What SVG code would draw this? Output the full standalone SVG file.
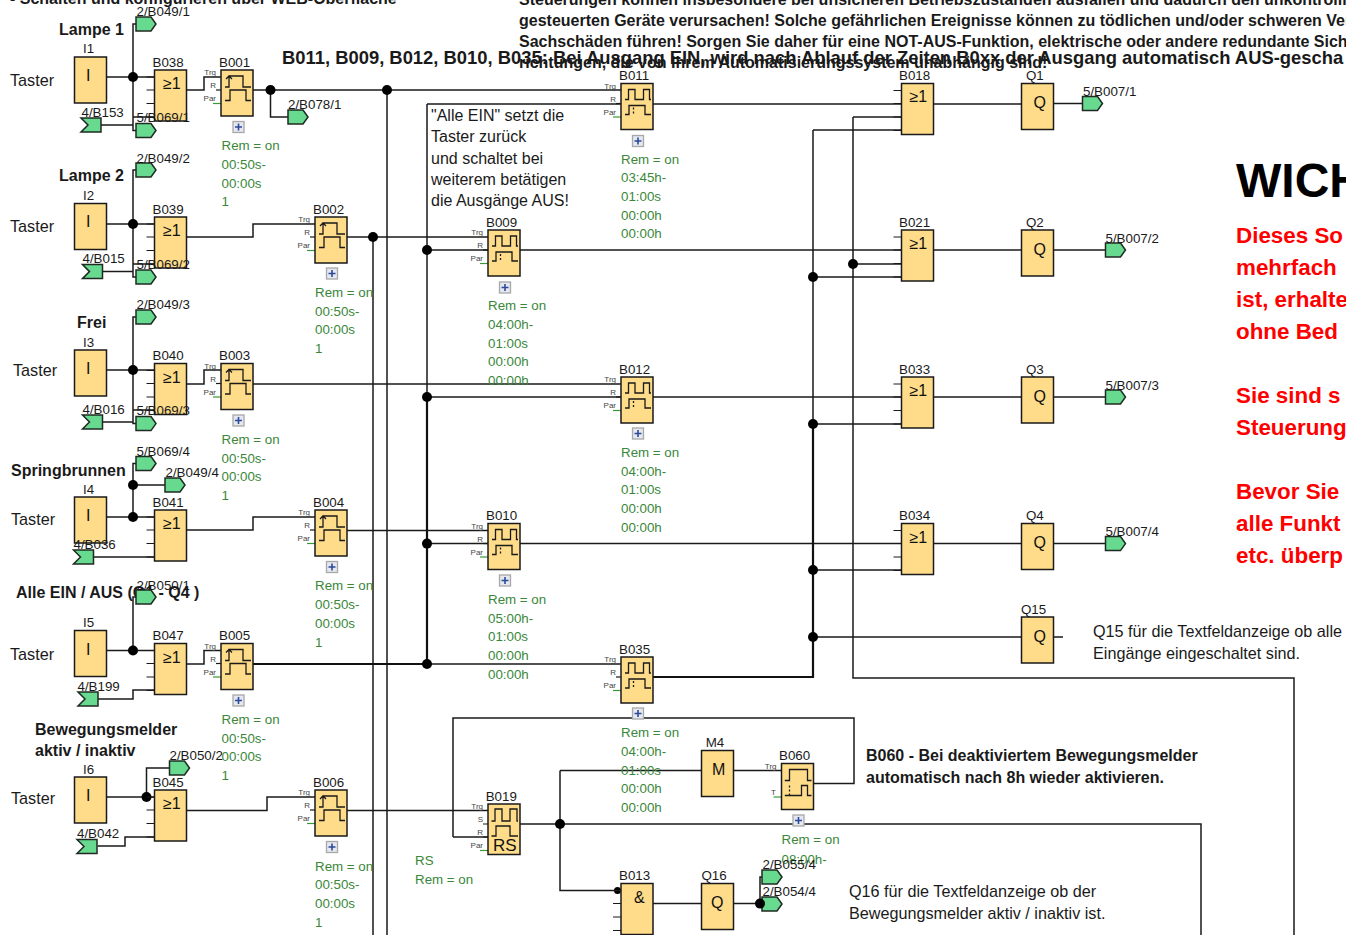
<svg xmlns="http://www.w3.org/2000/svg" width="1346" height="935" viewBox="0 0 1346 935">
<style>
text{font-family:"Liberation Sans",Arial,sans-serif;fill:#1a1a1a}
.l{font-size:13.33px}
.g{font-size:13.33px;fill:#3a873a}
.p{font-size:8px;fill:#444;text-anchor:end}
.t{font-size:16.2px}
.b16{font-size:16px;font-weight:bold}
.note{font-size:16px}
.red{font-size:22.4px;font-weight:bold;fill:#ff0000}
.sym{font-size:16px;fill:#111}
.w{fill:none;stroke:#1a1a1a;stroke-width:1.5}
.wt{fill:none;stroke:#111;stroke-width:2.2}
.d{fill:#000}
.blk{fill:#fedc8a;stroke:#1a1a1a;stroke-width:1.5}
.gl{fill:none;stroke:#1a1a1a;stroke-width:1.3}
.tk{stroke:#1a1a1a;stroke-width:1.2}
.gt{stroke:#3a9a3a;stroke-width:1.2}
.io{fill:#68da90;stroke:#1f2a22;stroke-width:1.5}
.pb{fill:#e6e8f0;stroke:#a8a8a8;stroke-width:1.3}
.pp{stroke:#2c4a9c;stroke-width:1.6}
</style>
<defs>
<g id="orB"><path class="tk" d="M-8 7H0M-8 20H0M-8 33.500H0M-8 47H0"/><rect class="blk" width="32" height="51"/></g>
<g id="box"><rect class="blk" width="32" height="46"/></g>
<g id="tA"><path class="tk" d="M-5 20H0"/><path class="gt" d="M-8 33.500H0"/><rect class="blk" width="32" height="46"/><path class="gl" d="M4 17H8V6H22V17H30M5 9L8 6L11 9M4 30.500H9V20H25V30.500H30"/></g>
<g id="tB"><path class="tk" d="M-5 20H0"/><path class="gt" d="M-8 33.500H0"/><rect class="blk" width="32" height="46"/><path class="gl" d="M4 16H7.500V6H14V16H22.500V6H28.500V16H30M4 31H8V22H24V31H30"/><path class="gl" stroke-dasharray="2 2" d="M12.500 24V31"/></g>
<g id="tRS"><path class="tk" d="M-5 20H0M-5 33H0"/><path class="gt" d="M-8 46.500H0"/><rect class="blk" width="32" height="50.500"/><path class="gl" d="M3.500 17H7V5H14V17H22V5H29V17H30M3.500 32H8V22H22V32H30"/></g>
<g id="tC"><path class="gt" d="M-8 33.500H0"/><rect class="blk" width="32" height="46"/><path class="gl" d="M3.300 17H8V6H26V17H30M3.300 32H20V22H26V32H30"/><path class="gl" stroke-dasharray="2 2" d="M8 22V32"/></g>
<path id="out" class="io" d="M0 0H15L20 7L15 14H0Z"/>
<path id="inp" class="io" d="M0 0H20V14H0L7 7Z"/>
<g id="plus"><rect class="pb" x="-5.500" y="-5.500" width="11" height="11"/><path class="pp" d="M-3.500 0H3.500M0 -3.500V3.500"/></g>
</defs>

<g id="free-text">
<text class="b16" x="10" y="4">- Schalten und konfigurieren über WEB-Oberfläche</text>
<text class="b16" x="519" y="5">Steuerungen können insbesondere bei unsicheren Betriebszuständen ausfallen und dadurch den unkontrolli</text>
<text class="b16" x="519" y="26">gesteuerten Geräte verursachen! Solche gefährlichen Ereignisse können zu tödlichen und/oder schweren Ver</text>
<text class="b16" x="519" y="47">Sachschäden führen! Sorgen Sie daher für eine NOT-AUS-Funktion, elektrische oder andere redundante Sich</text>
<text class="b16" x="519" y="68">richtungen, die von Ihrem Automatisierungssystem unabhängig sind!</text>
<text x="282" y="64" font-size="18.4" font-weight="bold">B011, B009, B012, B010, B035: Bei Ausgang EIN, wird nach Ablauf der Zeiten B0xx der Ausgang automatisch AUS-gescha</text>
<text class="b16" x="59" y="35">Lampe 1</text>
<text class="b16" x="59" y="181">Lampe 2</text>
<text class="b16" x="77" y="328">Frei</text>
<text class="b16" x="11" y="476">Springbrunnen</text>
<text class="b16" x="16" y="598">Alle EIN / AUS (Q1 - Q4 )</text>
<text class="b16" x="35" y="735">Bewegungsmelder</text>
<text class="b16" x="35" y="756">aktiv / inaktiv</text>
<text class="t" x="10" y="86">Taster</text>
<text class="t" x="10" y="232">Taster</text>
<text class="t" x="13" y="376">Taster</text>
<text class="t" x="11" y="525">Taster</text>
<text class="t" x="10" y="660">Taster</text>
<text class="t" x="11" y="804">Taster</text>
<text class="note" x="431" y="121">"Alle EIN" setzt die</text>
<text class="note" x="431" y="142">Taster zurück</text>
<text class="note" x="431" y="164">und schaltet bei</text>
<text class="note" x="431" y="185">weiterem betätigen</text>
<text class="note" x="431" y="206">die Ausgänge AUS!</text>
<text x="1236" y="197" font-size="48" font-weight="bold" style="fill:#000">WICH</text>
<text class="red" x="1236" y="243">Dieses So</text>
<text class="red" x="1236" y="275">mehrfach</text>
<text class="red" x="1236" y="307">ist, erhalte</text>
<text class="red" x="1236" y="339">ohne Bed</text>
<text class="red" x="1236" y="403">Sie sind s</text>
<text class="red" x="1236" y="435">Steuerung</text>
<text class="red" x="1236" y="499">Bevor Sie</text>
<text class="red" x="1236" y="531">alle Funkt</text>
<text class="red" x="1236" y="563">etc. überp</text>
<text class="t" x="1093" y="637">Q15 für die Textfeldanzeige ob alle</text>
<text class="t" x="1093" y="659">Eingänge eingeschaltet sind.</text>
<text class="t" x="849" y="897">Q16 für die Textfeldanzeige ob der</text>
<text class="t" x="849" y="919">Bewegungsmelder aktiv / inaktiv ist.</text>
<text class="b16" x="866" y="761">B060 - Bei deaktiviertem Bewegungsmelder</text>
<text class="b16" x="866" y="783">automatisch nach 8h wieder aktivieren.</text>
</g>

<g id="connectors">
<path class="w" d="M106 77H154M133 77V24H136M133 77V130.500H136M101 125H133V117H154M186.500 90H204V77H221M253 90H621M270.500 90V117H288M387 90V935M373 237V935M427 104V397M427 104H621M653 104H901M853 117H901M853 117V678H1294V935M813 130H901M813 130V424M933 104H1022M1054 103.500H1083"/>
<path class="w" d="M106 224H154M133 224V170H136M133 224V277H136M103 271.600H133V264H154M186.500 237H253V224H315M347 237H488M427 250H488M520 250H901M933 250H1022M1054 250H1106M853 264H901M813 277H901"/>
<path class="w" d="M106 370H154M133 370V317H136M133 370V423.600H136M103 422H133V410H154M186.500 384H204V370H221M253 384H621M427 397H621M653 397H901M933 397H1022M1054 397H1106M813 424H901"/>
<path class="w" d="M106 517H154M133 517V463.500H136M133 485H165M93.500 557H154M186.500 530H253V517H315M347 530.600H488M427 543.600H488M520 543.600H901M933 543.600H1022M1054 543.600H1106M813 570H901"/>
<path class="w" d="M106 650.500H154M133 650.500V597H136M98 699H133V690H154M186.500 664H204V650.500H221M427 664H621M813 637H1022M1054 637H1063"/>
<path class="wt" d="M253 664H427M427 397V664M813 424V677H653"/>
<path class="w" d="M106 797H154M146.500 797V768H169.500M97.500 846H125V837H154M186.500 810.600H267V797H315M347 810.600H488M453 837H488M453 837V718H854V783.500H813.500M520 824H1201V935M560 770.500V890.500H617M560 770.500H701M733.500 770.500H781M653 903.600H701M733.500 903.600H760M760 903.600V877H762"/>
<g class="d">
<circle cx="133" cy="77" r="5"/><circle cx="270.500" cy="90" r="5"/><circle cx="387" cy="90" r="5"/><circle cx="133" cy="224" r="5"/><circle cx="373" cy="237" r="5"/><circle cx="427" cy="250" r="5"/><circle cx="853" cy="264" r="5"/><circle cx="813" cy="277" r="5"/><circle cx="133" cy="370" r="5"/><circle cx="427" cy="397" r="5"/><circle cx="813" cy="424" r="5"/><circle cx="133" cy="485" r="5"/><circle cx="133" cy="517" r="5"/><circle cx="427" cy="543.600" r="5"/><circle cx="813" cy="570" r="5"/><circle cx="813" cy="637" r="5"/><circle cx="133" cy="650.500" r="5"/><circle cx="427" cy="664" r="5"/><circle cx="146.500" cy="797" r="5"/><circle cx="560" cy="824" r="5"/><circle cx="617.500" cy="890.500" r="3.500"/>
</g>
</g>

<g id="I1"><use href="#box" x="74.500" y="57"/><text class="l" x="83" y="53">I1</text><text class="sym" x="86" y="81">I</text></g>
<g id="I2"><use href="#box" x="74.500" y="203.500"/><text class="l" x="83" y="200">I2</text><text class="sym" x="86" y="227">I</text></g>
<g id="I3"><use href="#box" x="74.500" y="350"/><text class="l" x="83" y="347">I3</text><text class="sym" x="86" y="374">I</text></g>
<g id="I4"><use href="#box" x="74.500" y="497"/><text class="l" x="83" y="493.500">I4</text><text class="sym" x="86" y="521">I</text></g>
<g id="I5"><use href="#box" x="74.500" y="630.500"/><text class="l" x="83" y="627">I5</text><text class="sym" x="86" y="654.500">I</text></g>
<g id="I6"><use href="#box" x="74.500" y="777"/><text class="l" x="83" y="773.500">I6</text><text class="sym" x="86" y="801">I</text></g>

<g id="B038"><use href="#orB" x="154.500" y="70"/><text class="l" x="152.500" y="66.500">B038</text><text class="sym" x="163" y="89">≥1</text></g>
<g id="B039"><use href="#orB" x="154.500" y="217"/><text class="l" x="152.500" y="213.500">B039</text><text class="sym" x="163" y="236">≥1</text></g>
<g id="B040"><use href="#orB" x="154.500" y="363.500"/><text class="l" x="152.500" y="360">B040</text><text class="sym" x="163" y="382.500">≥1</text></g>
<g id="B041"><use href="#orB" x="154.500" y="510"/><text class="l" x="152.500" y="506.500">B041</text><text class="sym" x="163" y="529">≥1</text></g>
<g id="B047"><use href="#orB" x="154.500" y="643.500"/><text class="l" x="152.500" y="640">B047</text><text class="sym" x="163" y="662.500">≥1</text></g>
<g id="B045"><use href="#orB" x="154.500" y="790"/><text class="l" x="152.500" y="786.500">B045</text><text class="sym" x="163" y="809">≥1</text></g>

<g id="B001"><use href="#tA" x="221" y="70"/><text class="l" x="219" y="66.500">B001</text><text class="p" x="216" y="75">Trg</text><text class="p" x="216" y="88">R</text><text class="p" x="216" y="101">Par</text><use href="#plus" x="238.500" y="127"/><text class="g" x="221.500" y="150">Rem = on</text><text class="g" x="221.500" y="169">00:50s-</text><text class="g" x="221.500" y="188">00:00s</text><text class="g" x="221.500" y="206">1</text></g>
<g id="B002"><use href="#tA" x="315" y="217"/><text class="l" x="313" y="213.500">B002</text><text class="p" x="310" y="222">Trg</text><text class="p" x="310" y="235">R</text><text class="p" x="310" y="248">Par</text><use href="#plus" x="332" y="273.500"/><text class="g" x="315" y="297">Rem = on</text><text class="g" x="315" y="316">00:50s-</text><text class="g" x="315" y="334">00:00s</text><text class="g" x="315" y="353">1</text></g>
<g id="B003"><use href="#tA" x="221" y="363.500"/><text class="l" x="219" y="360">B003</text><text class="p" x="216" y="368.500">Trg</text><text class="p" x="216" y="381.500">R</text><text class="p" x="216" y="394.500">Par</text><use href="#plus" x="238.500" y="420.500"/><text class="g" x="221.500" y="444">Rem = on</text><text class="g" x="221.500" y="463">00:50s-</text><text class="g" x="221.500" y="481">00:00s</text><text class="g" x="221.500" y="500">1</text></g>
<g id="B004"><use href="#tA" x="315" y="510"/><text class="l" x="313" y="506.500">B004</text><text class="p" x="310" y="515">Trg</text><text class="p" x="310" y="528">R</text><text class="p" x="310" y="541">Par</text><use href="#plus" x="332" y="567"/><text class="g" x="315" y="590">Rem = on</text><text class="g" x="315" y="609">00:50s-</text><text class="g" x="315" y="628">00:00s</text><text class="g" x="315" y="647">1</text></g>
<g id="B005"><use href="#tA" x="221" y="643.500"/><text class="l" x="219" y="640">B005</text><text class="p" x="216" y="648.500">Trg</text><text class="p" x="216" y="661.500">R</text><text class="p" x="216" y="674.500">Par</text><use href="#plus" x="238.500" y="700.500"/><text class="g" x="221.500" y="724">Rem = on</text><text class="g" x="221.500" y="743">00:50s-</text><text class="g" x="221.500" y="761">00:00s</text><text class="g" x="221.500" y="780">1</text></g>
<g id="B006"><use href="#tA" x="315" y="790"/><text class="l" x="313" y="786.500">B006</text><text class="p" x="310" y="795">Trg</text><text class="p" x="310" y="808">R</text><text class="p" x="310" y="821">Par</text><use href="#plus" x="332" y="847"/><text class="g" x="315" y="871">Rem = on</text><text class="g" x="315" y="889">00:50s-</text><text class="g" x="315" y="908">00:00s</text><text class="g" x="315" y="927">1</text></g>

<g id="B011"><use href="#tB" x="621" y="83.500"/><text class="l" x="619" y="80">B011</text><text class="p" x="616" y="88.500">Trg</text><text class="p" x="616" y="101.500">R</text><text class="p" x="616" y="114.500">Par</text><use href="#plus" x="638" y="141"/><text class="g" x="621" y="164">Rem = on</text><text class="g" x="621" y="182">03:45h-</text><text class="g" x="621" y="201">01:00s</text><text class="g" x="621" y="220">00:00h</text><text class="g" x="621" y="238">00:00h</text></g>
<g id="B009"><use href="#tB" x="488" y="230"/><text class="l" x="486" y="226.500">B009</text><text class="p" x="483" y="235">Trg</text><text class="p" x="483" y="248">R</text><text class="p" x="483" y="261">Par</text><use href="#plus" x="505" y="287.500"/><text class="g" x="488" y="310">Rem = on</text><text class="g" x="488" y="329">04:00h-</text><text class="g" x="488" y="348">01:00s</text><text class="g" x="488" y="366">00:00h</text><text class="g" x="488" y="385">00:00h</text></g>
<g id="B012"><use href="#tB" x="621" y="377"/><text class="l" x="619" y="373.500">B012</text><text class="p" x="616" y="382">Trg</text><text class="p" x="616" y="395">R</text><text class="p" x="616" y="408">Par</text><use href="#plus" x="638" y="433.500"/><text class="g" x="621" y="457">Rem = on</text><text class="g" x="621" y="476">04:00h-</text><text class="g" x="621" y="494">01:00s</text><text class="g" x="621" y="513">00:00h</text><text class="g" x="621" y="532">00:00h</text></g>
<g id="B010"><use href="#tB" x="488" y="523.500"/><text class="l" x="486" y="520">B010</text><text class="p" x="483" y="528.500">Trg</text><text class="p" x="483" y="541.500">R</text><text class="p" x="483" y="554.500">Par</text><use href="#plus" x="505" y="580.500"/><text class="g" x="488" y="604">Rem = on</text><text class="g" x="488" y="623">05:00h-</text><text class="g" x="488" y="641">01:00s</text><text class="g" x="488" y="660">00:00h</text><text class="g" x="488" y="679">00:00h</text></g>
<g id="B035"><use href="#tB" x="621" y="657"/><text class="l" x="619" y="653.500">B035</text><text class="p" x="616" y="662">Trg</text><text class="p" x="616" y="675">R</text><text class="p" x="616" y="688">Par</text><use href="#plus" x="638" y="713.500"/><text class="g" x="621" y="737">Rem = on</text><text class="g" x="621" y="756">04:00h-</text><text class="g" x="621" y="775">01:00s</text><text class="g" x="621" y="793">00:00h</text><text class="g" x="621" y="812">00:00h</text></g>

<g id="B019"><use href="#tRS" x="488" y="804"/><text class="l" x="485.700" y="800.500">B019</text><text class="p" x="483" y="809">Trg</text><text class="p" x="483" y="822">S</text><text class="p" x="483" y="835">R</text><text class="p" x="483" y="848">Par</text><text x="493" y="851" font-size="17" style="fill:#111">RS</text><text class="g" x="415" y="865">RS</text><text class="g" x="415" y="884">Rem = on</text></g>
<g id="M4"><use href="#box" x="701.500" y="750.500"/><text class="l" x="705.700" y="747">M4</text><text class="sym" x="712" y="775">M</text></g>
<g id="B060"><use href="#tC" x="781.500" y="763.500"/><text class="l" x="779" y="760">B060</text><text class="p" x="776.500" y="768.500">Trg</text><text class="p" x="776" y="795">T</text><use href="#plus" x="798.500" y="820.500"/><text class="g" x="781.500" y="844">Rem = on</text><text class="g" x="781.500" y="864">08:00h-</text></g>
<g id="B013"><use href="#orB" x="621" y="883.500"/><text class="l" x="619" y="880">B013</text><text class="sym" x="634" y="903">&amp;</text></g>
<g id="Q16"><use href="#box" x="701.500" y="883.500"/><text class="l" x="701.500" y="880">Q16</text><text class="sym" x="711" y="908">Q</text></g>

<g id="B018"><use href="#orB" x="901.500" y="83.500"/><text class="l" x="899" y="80">B018</text><text class="sym" x="909.500" y="102">≥1</text></g>
<g id="B021"><use href="#orB" x="901.500" y="230"/><text class="l" x="899" y="226.500">B021</text><text class="sym" x="909.500" y="249">≥1</text></g>
<g id="B033"><use href="#orB" x="901.500" y="377"/><text class="l" x="899" y="373.500">B033</text><text class="sym" x="909.500" y="396">≥1</text></g>
<g id="B034"><use href="#orB" x="901.500" y="523.500"/><text class="l" x="899" y="520">B034</text><text class="sym" x="909.500" y="542.500">≥1</text></g>
<g id="Q1"><use href="#box" x="1021.500" y="83.500"/><text class="l" x="1026" y="80">Q1</text><text class="sym" x="1033.500" y="108">Q</text></g>
<g id="Q2"><use href="#box" x="1021.500" y="230"/><text class="l" x="1026" y="226.500">Q2</text><text class="sym" x="1033.500" y="254.500">Q</text></g>
<g id="Q3"><use href="#box" x="1021.500" y="377"/><text class="l" x="1026" y="373.500">Q3</text><text class="sym" x="1033.500" y="401.500">Q</text></g>
<g id="Q4"><use href="#box" x="1021.500" y="523.500"/><text class="l" x="1026" y="520">Q4</text><text class="sym" x="1033.500" y="548">Q</text></g>
<g id="Q15"><use href="#box" x="1021.500" y="617"/><text class="l" x="1021" y="613.500">Q15</text><text class="sym" x="1033.500" y="641.500">Q</text></g>

<g id="out-B049-1"><use href="#out" x="136" y="17"/><text class="l" x="136.500" y="16">2/B049/1</text></g>
<g id="out-B069-1"><use href="#out" x="136" y="123.500"/><text class="l" x="136.500" y="122">5/B069/1</text></g>
<g id="in-B153"><use href="#inp" x="81" y="118"/><text class="l" x="81.500" y="116.500">4/B153</text></g>
<g id="out-B078-1"><use href="#out" x="288" y="110"/><text class="l" x="288" y="109">2/B078/1</text></g>
<g id="out-B049-2"><use href="#out" x="136" y="163"/><text class="l" x="136.500" y="163">2/B049/2</text></g>
<g id="out-B069-2"><use href="#out" x="136" y="270"/><text class="l" x="136.500" y="268.500">5/B069/2</text></g>
<g id="in-B015"><use href="#inp" x="82.500" y="264.600"/><text class="l" x="82.500" y="263">4/B015</text></g>
<g id="out-B049-3"><use href="#out" x="136" y="310"/><text class="l" x="136.500" y="309">2/B049/3</text></g>
<g id="out-B069-3"><use href="#out" x="136" y="416.600"/><text class="l" x="136.500" y="415">5/B069/3</text></g>
<g id="in-B016"><use href="#inp" x="82.500" y="415"/><text class="l" x="82.500" y="413.500">4/B016</text></g>
<g id="out-B069-4"><use href="#out" x="136" y="456.500"/><text class="l" x="136.500" y="456">5/B069/4</text></g>
<g id="out-B049-4"><use href="#out" x="165" y="478"/><text class="l" x="165.500" y="477">2/B049/4</text></g>
<g id="in-B036"><use href="#inp" x="73.500" y="550"/><text class="l" x="73.500" y="549">4/B036</text></g>
<g id="out-B050-1"><use href="#out" x="136" y="590"/><text class="l" x="136.500" y="589.500">2/B050/1</text></g>
<g id="in-B199"><use href="#inp" x="78" y="692"/><text class="l" x="77.500" y="691">4/B199</text></g>
<g id="out-B050-2"><use href="#out" x="169.500" y="761"/><text class="l" x="169.500" y="760">2/B050/2</text></g>
<g id="in-B042"><use href="#inp" x="77" y="839.500"/><text class="l" x="77" y="838">4/B042</text></g>
<g id="out-B055-4"><use href="#out" x="762" y="870"/><text class="l" x="762.500" y="869">2/B055/4</text></g>
<g id="out-B054-4"><use href="#out" x="762" y="897"/><text class="l" x="762.500" y="896">2/B054/4</text></g>
<circle class="d" cx="760" cy="903.600" r="5"/>
<g id="out-B007-1"><use href="#out" x="1082.500" y="96.500"/><text class="l" x="1083" y="96">5/B007/1</text></g>
<g id="out-B007-2"><use href="#out" x="1105.500" y="243"/><text class="l" x="1105.500" y="243">5/B007/2</text></g>
<g id="out-B007-3"><use href="#out" x="1105.500" y="390"/><text class="l" x="1105.500" y="389.500">5/B007/3</text></g>
<g id="out-B007-4"><use href="#out" x="1105.500" y="536.600"/><text class="l" x="1105.500" y="536">5/B007/4</text></g>
</svg>
